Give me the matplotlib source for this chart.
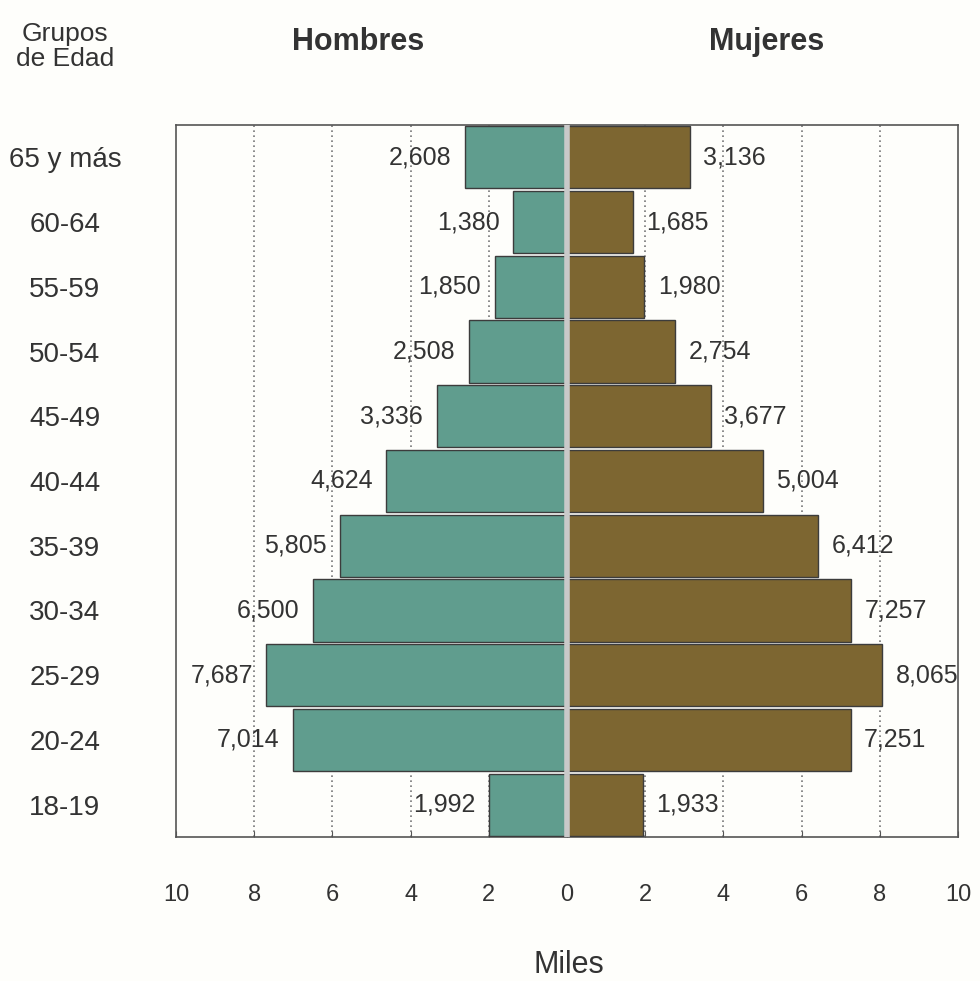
import numpy as np
import matplotlib.pyplot as plt

plt.rcParams['font.family'] = ['Liberation Sans', 'DejaVu Sans']

grupos = ['18-19', '20-24', '25-29', '30-34', '35-39', '40-44',
          '45-49', '50-54', '55-59', '60-64', '65 y más']
hombres = [1992, 7014, 7687, 6500, 5805, 4624, 3336, 2508, 1850, 1380, 2608]
mujeres = [1933, 7251, 8065, 7257, 6412, 5004, 3677, 2754, 1980, 1685, 3136]
xticks = [-10, -8, -6, -4, -2, 0, 2, 4, 6, 8, 10]

bg = '#fefefb'
c_h = '#609d8e'
c_m = '#7d6631'
txt = '#333333'

fig = plt.figure(figsize=(9.8, 9.81), dpi=100, facecolor=bg)
ax = fig.add_axes([0.1796, 0.1468, 0.798, 0.7258], facecolor=bg)

y = np.arange(len(grupos))
h = np.array(hombres) / 1000
m = np.array(mujeres) / 1000

ax.barh(y, -h, height=0.96, color=c_h, edgecolor='#3c3c3c', linewidth=1, zorder=3)
ax.barh(y, m, height=0.96, color=c_m, edgecolor='#3c3c3c', linewidth=1, zorder=3)
ax.axvline(0, color='#c9c9c9', lw=4, zorder=4)

for yi, v in zip(y, hombres):
    ax.text(-v / 1000 - 0.35, yi, f'{v:,}', ha='right', va='center',
            fontsize=18, color=txt, zorder=5)
for yi, v in zip(y, mujeres):
    ax.text(v / 1000 + 0.35, yi, f'{v:,}', ha='left', va='center',
            fontsize=18, color=txt, zorder=5)

ax.set_xlim(-10, 10)
ax.set_ylim(-0.5, len(grupos) - 0.5)
ax.set_xticks(xticks)
ax.set_xticklabels([str(abs(t)) for t in xticks], fontsize=17, color=txt)
ax.tick_params(axis='x', direction='in', length=4, pad=34, color='#555555')
ax.set_yticks(y)
ax.set_yticklabels(grupos, fontsize=20, color=txt, ha='center')
ax.tick_params(axis='y', length=0, pad=80)

for t in [-8, -6, -4, -2, 2, 4, 6, 8]:
    ax.axvline(t, color='#777777', lw=1.2, ls=(0, (1, 2)), zorder=1)

for s in ax.spines.values():
    s.set_color('#555555')
    s.set_linewidth(1.2)

fig.text(0.066, 0.953, 'Grupos\nde Edad', ha='center', va='center',
         fontsize=19, color=txt, linespacing=1.05)
fig.text(0.365, 0.957, 'Hombres', ha='center', va='center',
         fontsize=22, fontweight='bold', color=txt)
fig.text(0.782, 0.957, 'Mujeres', ha='center', va='center',
         fontsize=22, fontweight='bold', color=txt)
fig.text(0.58, 0.016, 'Miles', ha='center', va='center', fontsize=22, color=txt)

fig.savefig('out.png', dpi=100, facecolor=bg)
